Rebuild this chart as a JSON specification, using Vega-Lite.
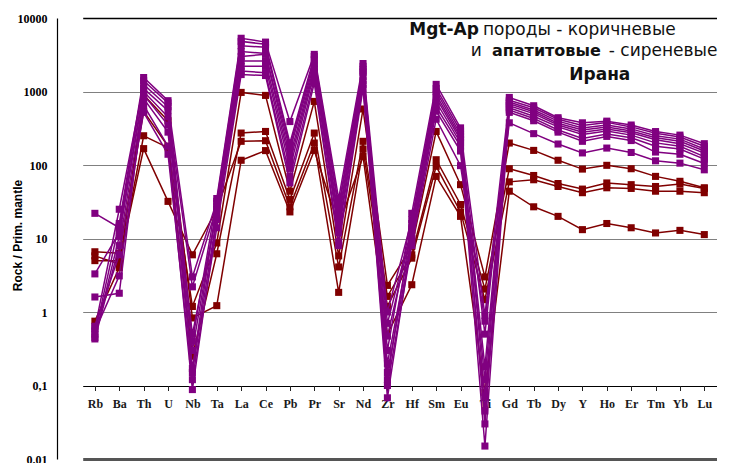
{
  "$schema": "https://vega.github.io/schema/vega-lite/v6.json",
  "width": 673,
  "height": 441,
  "autosize": "none",
  "padding": {"left": 57, "top": 18, "right": 0, "bottom": 4},
  "background": "white",
  "config": {"view": {"stroke": null}},
  "datasets": {
    "brown": [
      {"s":"B1","e":"Rb","v":6.6},{"s":"B1","e":"Ba","v":6.3},{"s":"B1","e":"Th","v":536},{"s":"B1","e":"U","v":180},{"s":"B1","e":"Nb","v":1.19},{"s":"B1","e":"Ta","v":8.7},{"s":"B1","e":"La","v":972},{"s":"B1","e":"Ce","v":885},{"s":"B1","e":"Pb","v":44},{"s":"B1","e":"Pr","v":733},{"s":"B1","e":"Sr","v":5.8},{"s":"B1","e":"Nd","v":578},{"s":"B1","e":"Zr","v":2.3},{"s":"B1","e":"Hf","v":7.8},{"s":"B1","e":"Sm","v":286},{"s":"B1","e":"Eu","v":54},{"s":"B1","e":"Ti","v":3.0},{"s":"B1","e":"Gd","v":199},{"s":"B1","e":"Tb","v":158},{"s":"B1","e":"Dy","v":116},{"s":"B1","e":"Y","v":88},{"s":"B1","e":"Ho","v":99},{"s":"B1","e":"Er","v":89},{"s":"B1","e":"Tm","v":70},{"s":"B1","e":"Yb","v":60},{"s":"B1","e":"Lu","v":49},
      {"s":"B2","e":"Rb","v":5.8},{"s":"B2","e":"Ba","v":4.5},{"s":"B2","e":"Th","v":250},{"s":"B2","e":"U","v":172},{"s":"B2","e":"Nb","v":0.25},{"s":"B2","e":"Ta","v":6.2},{"s":"B2","e":"La","v":272},{"s":"B2","e":"Ce","v":286},{"s":"B2","e":"Pb","v":34},{"s":"B2","e":"Pr","v":272},{"s":"B2","e":"Sr","v":4.1},{"s":"B2","e":"Nd","v":210},{"s":"B2","e":"Zr","v":1.63},{"s":"B2","e":"Hf","v":6.0},{"s":"B2","e":"Sm","v":118},{"s":"B2","e":"Eu","v":29},{"s":"B2","e":"Ti","v":2.05},{"s":"B2","e":"Gd","v":89},{"s":"B2","e":"Tb","v":72},{"s":"B2","e":"Dy","v":56},{"s":"B2","e":"Y","v":47},{"s":"B2","e":"Ho","v":57},{"s":"B2","e":"Er","v":54},{"s":"B2","e":"Tm","v":51},{"s":"B2","e":"Yb","v":55},{"s":"B2","e":"Lu","v":48},
      {"s":"B3","e":"Rb","v":5.0},{"s":"B3","e":"Ba","v":5.0},{"s":"B3","e":"Th","v":167},{"s":"B3","e":"U","v":32},{"s":"B3","e":"Nb","v":6.0},{"s":"B3","e":"Ta","v":25},{"s":"B3","e":"La","v":210},{"s":"B3","e":"Ce","v":214},{"s":"B3","e":"Pb","v":27},{"s":"B3","e":"Pr","v":199},{"s":"B3","e":"Sr","v":1.85},{"s":"B3","e":"Nd","v":165},{"s":"B3","e":"Zr","v":1.19},{"s":"B3","e":"Hf","v":5.4},{"s":"B3","e":"Sm","v":96},{"s":"B3","e":"Eu","v":23},{"s":"B3","e":"Ti","v":1.47},{"s":"B3","e":"Gd","v":59},{"s":"B3","e":"Tb","v":63},{"s":"B3","e":"Dy","v":51},{"s":"B3","e":"Y","v":42},{"s":"B3","e":"Ho","v":49},{"s":"B3","e":"Er","v":48},{"s":"B3","e":"Tm","v":44},{"s":"B3","e":"Yb","v":44},{"s":"B3","e":"Lu","v":42},
      {"s":"B4","e":"Rb","v":0.75},{"s":"B4","e":"Ba","v":4.0},{"s":"B4","e":"Th","v":900},{"s":"B4","e":"U","v":400},{"s":"B4","e":"Nb","v":0.83},{"s":"B4","e":"Ta","v":1.22},{"s":"B4","e":"La","v":116},{"s":"B4","e":"Ce","v":157},{"s":"B4","e":"Pb","v":23},{"s":"B4","e":"Pr","v":158},{"s":"B4","e":"Sr","v":15},{"s":"B4","e":"Nd","v":131},{"s":"B4","e":"Zr","v":0.5},{"s":"B4","e":"Hf","v":2.35},{"s":"B4","e":"Sm","v":70},{"s":"B4","e":"Eu","v":20},{"s":"B4","e":"Ti","v":0.08},{"s":"B4","e":"Gd","v":44},{"s":"B4","e":"Tb","v":27},{"s":"B4","e":"Dy","v":20},{"s":"B4","e":"Y","v":13.2},{"s":"B4","e":"Ho","v":16},{"s":"B4","e":"Er","v":14},{"s":"B4","e":"Tm","v":11.9},{"s":"B4","e":"Yb","v":12.9},{"s":"B4","e":"Lu","v":11.3}
    ],
    "purple": [
      {"s":"P1","e":"Rb","v":0.5},{"s":"P1","e":"Ba","v":16},{"s":"P1","e":"Th","v":1550},{"s":"P1","e":"U","v":750},{"s":"P1","e":"Nb","v":0.4},{"s":"P1","e":"Ta","v":35},{"s":"P1","e":"La","v":5300},{"s":"P1","e":"Ce","v":4700},{"s":"P1","e":"Pb","v":390},{"s":"P1","e":"Pr","v":3200},{"s":"P1","e":"Sr","v":35},{"s":"P1","e":"Nd","v":2400},{"s":"P1","e":"Zr","v":0.3},{"s":"P1","e":"Hf","v":22},{"s":"P1","e":"Sm","v":1250},{"s":"P1","e":"Eu","v":320},{"s":"P1","e":"Ti","v":0.07},{"s":"P1","e":"Gd","v":830},{"s":"P1","e":"Tb","v":640},{"s":"P1","e":"Dy","v":440},{"s":"P1","e":"Y","v":375},{"s":"P1","e":"Ho","v":395},{"s":"P1","e":"Er","v":350},{"s":"P1","e":"Tm","v":285},{"s":"P1","e":"Yb","v":255},{"s":"P1","e":"Lu","v":195},
      {"s":"P2","e":"Rb","v":22},{"s":"P2","e":"Ba","v":14},{"s":"P2","e":"Th","v":1400},{"s":"P2","e":"U","v":700},{"s":"P2","e":"Nb","v":3.0},{"s":"P2","e":"Ta","v":32},{"s":"P2","e":"La","v":4800},{"s":"P2","e":"Ce","v":4400},{"s":"P2","e":"Pb","v":200},{"s":"P2","e":"Pr","v":3000},{"s":"P2","e":"Sr","v":28},{"s":"P2","e":"Nd","v":2200},{"s":"P2","e":"Zr","v":1.0},{"s":"P2","e":"Hf","v":18},{"s":"P2","e":"Sm","v":1100},{"s":"P2","e":"Eu","v":290},{"s":"P2","e":"Ti","v":0.9},{"s":"P2","e":"Gd","v":760},{"s":"P2","e":"Tb","v":600},{"s":"P2","e":"Dy","v":420},{"s":"P2","e":"Y","v":345},{"s":"P2","e":"Ho","v":380},{"s":"P2","e":"Er","v":330},{"s":"P2","e":"Tm","v":270},{"s":"P2","e":"Yb","v":240},{"s":"P2","e":"Lu","v":180},
      {"s":"P3","e":"Rb","v":0.6},{"s":"P3","e":"Ba","v":25},{"s":"P3","e":"Th","v":1250},{"s":"P3","e":"U","v":620},{"s":"P3","e":"Nb","v":0.17},{"s":"P3","e":"Ta","v":30},{"s":"P3","e":"La","v":4200},{"s":"P3","e":"Ce","v":4000},{"s":"P3","e":"Pb","v":180},{"s":"P3","e":"Pr","v":2700},{"s":"P3","e":"Sr","v":25},{"s":"P3","e":"Nd","v":2000},{"s":"P3","e":"Zr","v":0.12},{"s":"P3","e":"Hf","v":16},{"s":"P3","e":"Sm","v":1000},{"s":"P3","e":"Eu","v":260},{"s":"P3","e":"Ti","v":0.03},{"s":"P3","e":"Gd","v":720},{"s":"P3","e":"Tb","v":560},{"s":"P3","e":"Dy","v":395},{"s":"P3","e":"Y","v":320},{"s":"P3","e":"Ho","v":350},{"s":"P3","e":"Er","v":310},{"s":"P3","e":"Tm","v":250},{"s":"P3","e":"Yb","v":225},{"s":"P3","e":"Lu","v":165},
      {"s":"P4","e":"Rb","v":3.3},{"s":"P4","e":"Ba","v":12},{"s":"P4","e":"Th","v":1100},{"s":"P4","e":"U","v":550},{"s":"P4","e":"Nb","v":2.2},{"s":"P4","e":"Ta","v":27},{"s":"P4","e":"La","v":3500},{"s":"P4","e":"Ce","v":3300},{"s":"P4","e":"Pb","v":160},{"s":"P4","e":"Pr","v":2400},{"s":"P4","e":"Sr","v":20},{"s":"P4","e":"Nd","v":1900},{"s":"P4","e":"Zr","v":0.7},{"s":"P4","e":"Hf","v":14},{"s":"P4","e":"Sm","v":900},{"s":"P4","e":"Eu","v":240},{"s":"P4","e":"Ti","v":0.5},{"s":"P4","e":"Gd","v":680},{"s":"P4","e":"Tb","v":530},{"s":"P4","e":"Dy","v":370},{"s":"P4","e":"Y","v":300},{"s":"P4","e":"Ho","v":330},{"s":"P4","e":"Er","v":290},{"s":"P4","e":"Tm","v":235},{"s":"P4","e":"Yb","v":210},{"s":"P4","e":"Lu","v":155},
      {"s":"P5","e":"Rb","v":0.45},{"s":"P5","e":"Ba","v":10.7},{"s":"P5","e":"Th","v":1000},{"s":"P5","e":"U","v":450},{"s":"P5","e":"Nb","v":0.3},{"s":"P5","e":"Ta","v":25},{"s":"P5","e":"La","v":3000},{"s":"P5","e":"Ce","v":3200},{"s":"P5","e":"Pb","v":130},{"s":"P5","e":"Pr","v":2200},{"s":"P5","e":"Sr","v":17},{"s":"P5","e":"Nd","v":1800},{"s":"P5","e":"Zr","v":0.47},{"s":"P5","e":"Hf","v":13},{"s":"P5","e":"Sm","v":820},{"s":"P5","e":"Eu","v":220},{"s":"P5","e":"Ti","v":0.18},{"s":"P5","e":"Gd","v":640},{"s":"P5","e":"Tb","v":500},{"s":"P5","e":"Dy","v":350},{"s":"P5","e":"Y","v":280},{"s":"P5","e":"Ho","v":310},{"s":"P5","e":"Er","v":275},{"s":"P5","e":"Tm","v":220},{"s":"P5","e":"Yb","v":195},{"s":"P5","e":"Lu","v":145},
      {"s":"P6","e":"Rb","v":1.6},{"s":"P6","e":"Ba","v":1.8},{"s":"P6","e":"Th","v":900},{"s":"P6","e":"U","v":350},{"s":"P6","e":"Nb","v":0.5},{"s":"P6","e":"Ta","v":22},{"s":"P6","e":"La","v":2600},{"s":"P6","e":"Ce","v":2600},{"s":"P6","e":"Pb","v":110},{"s":"P6","e":"Pr","v":2000},{"s":"P6","e":"Sr","v":14},{"s":"P6","e":"Nd","v":1600},{"s":"P6","e":"Zr","v":0.2},{"s":"P6","e":"Hf","v":11},{"s":"P6","e":"Sm","v":720},{"s":"P6","e":"Eu","v":200},{"s":"P6","e":"Ti","v":0.12},{"s":"P6","e":"Gd","v":600},{"s":"P6","e":"Tb","v":460},{"s":"P6","e":"Dy","v":330},{"s":"P6","e":"Y","v":260},{"s":"P6","e":"Ho","v":290},{"s":"P6","e":"Er","v":255},{"s":"P6","e":"Tm","v":200},{"s":"P6","e":"Yb","v":180},{"s":"P6","e":"Lu","v":130},
      {"s":"P7","e":"Rb","v":0.43},{"s":"P7","e":"Ba","v":8},{"s":"P7","e":"Th","v":800},{"s":"P7","e":"U","v":280},{"s":"P7","e":"Nb","v":0.15},{"s":"P7","e":"Ta","v":20},{"s":"P7","e":"La","v":2200},{"s":"P7","e":"Ce","v":2200},{"s":"P7","e":"Pb","v":90},{"s":"P7","e":"Pr","v":1800},{"s":"P7","e":"Sr","v":12},{"s":"P7","e":"Nd","v":1400},{"s":"P7","e":"Zr","v":0.068},{"s":"P7","e":"Hf","v":10},{"s":"P7","e":"Sm","v":620},{"s":"P7","e":"Eu","v":180},{"s":"P7","e":"Ti","v":0.015},{"s":"P7","e":"Gd","v":560},{"s":"P7","e":"Tb","v":430},{"s":"P7","e":"Dy","v":300},{"s":"P7","e":"Y","v":230},{"s":"P7","e":"Ho","v":265},{"s":"P7","e":"Er","v":235},{"s":"P7","e":"Tm","v":180},{"s":"P7","e":"Yb","v":165},{"s":"P7","e":"Lu","v":120},
      {"s":"P8","e":"Rb","v":0.55},{"s":"P8","e":"Ba","v":3.1},{"s":"P8","e":"Th","v":650},{"s":"P8","e":"U","v":180},{"s":"P8","e":"Nb","v":0.088},{"s":"P8","e":"Ta","v":18},{"s":"P8","e":"La","v":1900},{"s":"P8","e":"Ce","v":1800},{"s":"P8","e":"Pb","v":70},{"s":"P8","e":"Pr","v":1500},{"s":"P8","e":"Sr","v":9},{"s":"P8","e":"Nd","v":1250},{"s":"P8","e":"Zr","v":0.15},{"s":"P8","e":"Hf","v":9},{"s":"P8","e":"Sm","v":540},{"s":"P8","e":"Eu","v":155},{"s":"P8","e":"Ti","v":0.045},{"s":"P8","e":"Gd","v":520},{"s":"P8","e":"Tb","v":400},{"s":"P8","e":"Dy","v":280},{"s":"P8","e":"Y","v":210},{"s":"P8","e":"Ho","v":245},{"s":"P8","e":"Er","v":215},{"s":"P8","e":"Tm","v":150},{"s":"P8","e":"Yb","v":140},{"s":"P8","e":"Lu","v":105},
      {"s":"P9","e":"Rb","v":0.64},{"s":"P9","e":"Ba","v":6},{"s":"P9","e":"Th","v":520},{"s":"P9","e":"U","v":140},{"s":"P9","e":"Nb","v":0.12},{"s":"P9","e":"Ta","v":14},{"s":"P9","e":"La","v":1700},{"s":"P9","e":"Ce","v":1650},{"s":"P9","e":"Pb","v":57},{"s":"P9","e":"Pr","v":1300},{"s":"P9","e":"Sr","v":8},{"s":"P9","e":"Nd","v":1100},{"s":"P9","e":"Zr","v":0.1},{"s":"P9","e":"Hf","v":8},{"s":"P9","e":"Sm","v":420},{"s":"P9","e":"Eu","v":98},{"s":"P9","e":"Ti","v":0.75},{"s":"P9","e":"Gd","v":375},{"s":"P9","e":"Tb","v":267},{"s":"P9","e":"Dy","v":193},{"s":"P9","e":"Y","v":146},{"s":"P9","e":"Ho","v":170},{"s":"P9","e":"Er","v":148},{"s":"P9","e":"Tm","v":114},{"s":"P9","e":"Yb","v":106},{"s":"P9","e":"Lu","v":86}
    ]
  },
  "layer": [
    {
      "data": {"name": "brown"},
      "mark": {"type": "line", "color": "#800000", "strokeWidth": 1.5},
      "encoding": {
        "x": {
          "field": "e", "type": "ordinal",
          "scale": {"type": "point", "domain": ["Rb","Ba","Th","U","Nb","Ta","La","Ce","Pb","Pr","Sr","Nd","Zr","Hf","Sm","Eu","Ti","Gd","Tb","Dy","Y","Ho","Er","Tm","Yb","Lu"], "range": [25.7, 659.5]},
          "axis": {"title": null, "orient": "bottom", "offset": -73.5, "domain": false, "grid": false, "ticks": true, "tickSize": 5, "tickColor": "#222222", "tickWidth": 1, "labelAngle": 0, "labelFont": "Liberation Serif", "labelFontWeight": "bold", "labelFontSize": 12, "labelColor": "#1a1a1a", "labelPadding": 8}
        },
        "y": {
          "field": "v", "type": "quantitative",
          "scale": {"type": "log", "domain": [0.01, 10000], "nice": false},
          "axis": {
            "values": [0.01, 0.1, 1, 10, 100, 1000, 10000],
            "labelExpr": "datum.value >= 1 ? format(datum.value, 'd') : (datum.value > 0.05 ? '0,1' : '0.01')",
            "title": "Rock / Prim. mantle",
            "titleFont": "Liberation Sans", "titleFontWeight": "bold", "titleFontSize": 12, "titleColor": "#000000",
            "titleAngle": -90, "titleX": -40, "titleY": 217, "titleAlign": "center", "titleBaseline": "middle",
            "labelFont": "Liberation Serif", "labelFontWeight": "bold", "labelFontSize": 12, "labelColor": "#000000", "labelPadding": 10,
            "ticks": false, "domain": true, "domainColor": "#000000", "domainWidth": 1.2,
            "grid": true,
            "gridColor": {"condition": [{"test": "datum.value > 5000 || (datum.value > 0.05 && datum.value < 0.5)", "value": "#000000"}, {"test": "datum.value < 0.05", "value": "#555555"}], "value": "#808080"},
            "gridWidth": {"condition": [{"test": "datum.value < 0.05", "value": 3}, {"test": "datum.value > 5000", "value": 1.5}], "value": 1},
            "gridOpacity": 1
          }
        },
        "detail": {"field": "s"}
      }
    },
    {
      "data": {"name": "brown"},
      "mark": {"type": "point", "shape": "square", "filled": true, "size": 50, "color": "#800000", "opacity": 1},
      "encoding": {
        "x": {"field": "e", "type": "ordinal"},
        "y": {"field": "v", "type": "quantitative"}
      }
    },
    {
      "data": {"name": "purple"},
      "mark": {"type": "line", "color": "#800080", "strokeWidth": 1.5},
      "encoding": {
        "x": {"field": "e", "type": "ordinal"},
        "y": {"field": "v", "type": "quantitative"},
        "detail": {"field": "s"}
      }
    },
    {
      "data": {"name": "purple"},
      "mark": {"type": "point", "shape": "square", "filled": true, "size": 50, "color": "#800080", "opacity": 1},
      "encoding": {
        "x": {"field": "e", "type": "ordinal"},
        "y": {"field": "v", "type": "quantitative"}
      }
    },
    {
      "data": {"values": [{}]},
      "mark": {"type": "text", "text": "Mgt-Ap", "font": "DejaVu Sans", "fontWeight": "bold", "fontSize": 17, "align": "right", "baseline": "alphabetic", "dx": -6, "color": "#111111"},
      "encoding": {"x": {"datum": "Ti", "type": "ordinal"}, "y": {"datum": 5930, "type": "quantitative"}}
    },
    {
      "data": {"values": [{}]},
      "mark": {"type": "text", "text": "породы - коричневые", "font": "DejaVu Sans", "fontSize": 17, "align": "left", "baseline": "alphabetic", "dx": -2, "color": "#111111"},
      "encoding": {"x": {"datum": "Ti", "type": "ordinal"}, "y": {"datum": 5930, "type": "quantitative"}}
    },
    {
      "data": {"values": [{}]},
      "mark": {"type": "text", "text": "и", "font": "DejaVu Sans", "fontSize": 17, "align": "right", "baseline": "alphabetic", "dx": -3, "color": "#111111"},
      "encoding": {"x": {"datum": "Ti", "type": "ordinal"}, "y": {"datum": 3000, "type": "quantitative"}}
    },
    {
      "data": {"values": [{}]},
      "mark": {"type": "text", "text": "апатитовые", "font": "DejaVu Sans", "fontWeight": "bold", "fontSize": 16, "align": "right", "baseline": "alphabetic", "dx": -6, "color": "#111111"},
      "encoding": {"x": {"datum": "Ho", "type": "ordinal"}, "y": {"datum": 3000, "type": "quantitative"}}
    },
    {
      "data": {"values": [{}]},
      "mark": {"type": "text", "text": "- сиреневые", "font": "DejaVu Sans", "fontSize": 17, "align": "left", "baseline": "alphabetic", "dx": 2, "color": "#111111"},
      "encoding": {"x": {"datum": "Ho", "type": "ordinal"}, "y": {"datum": 3000, "type": "quantitative"}}
    },
    {
      "data": {"values": [{}]},
      "mark": {"type": "text", "text": "Ирана", "font": "DejaVu Sans", "fontWeight": "bold", "fontSize": 17, "align": "center", "baseline": "alphabetic", "dx": -7, "color": "#111111"},
      "encoding": {"x": {"datum": "Ho", "type": "ordinal"}, "y": {"datum": 1445, "type": "quantitative"}}
    }
  ]
}
